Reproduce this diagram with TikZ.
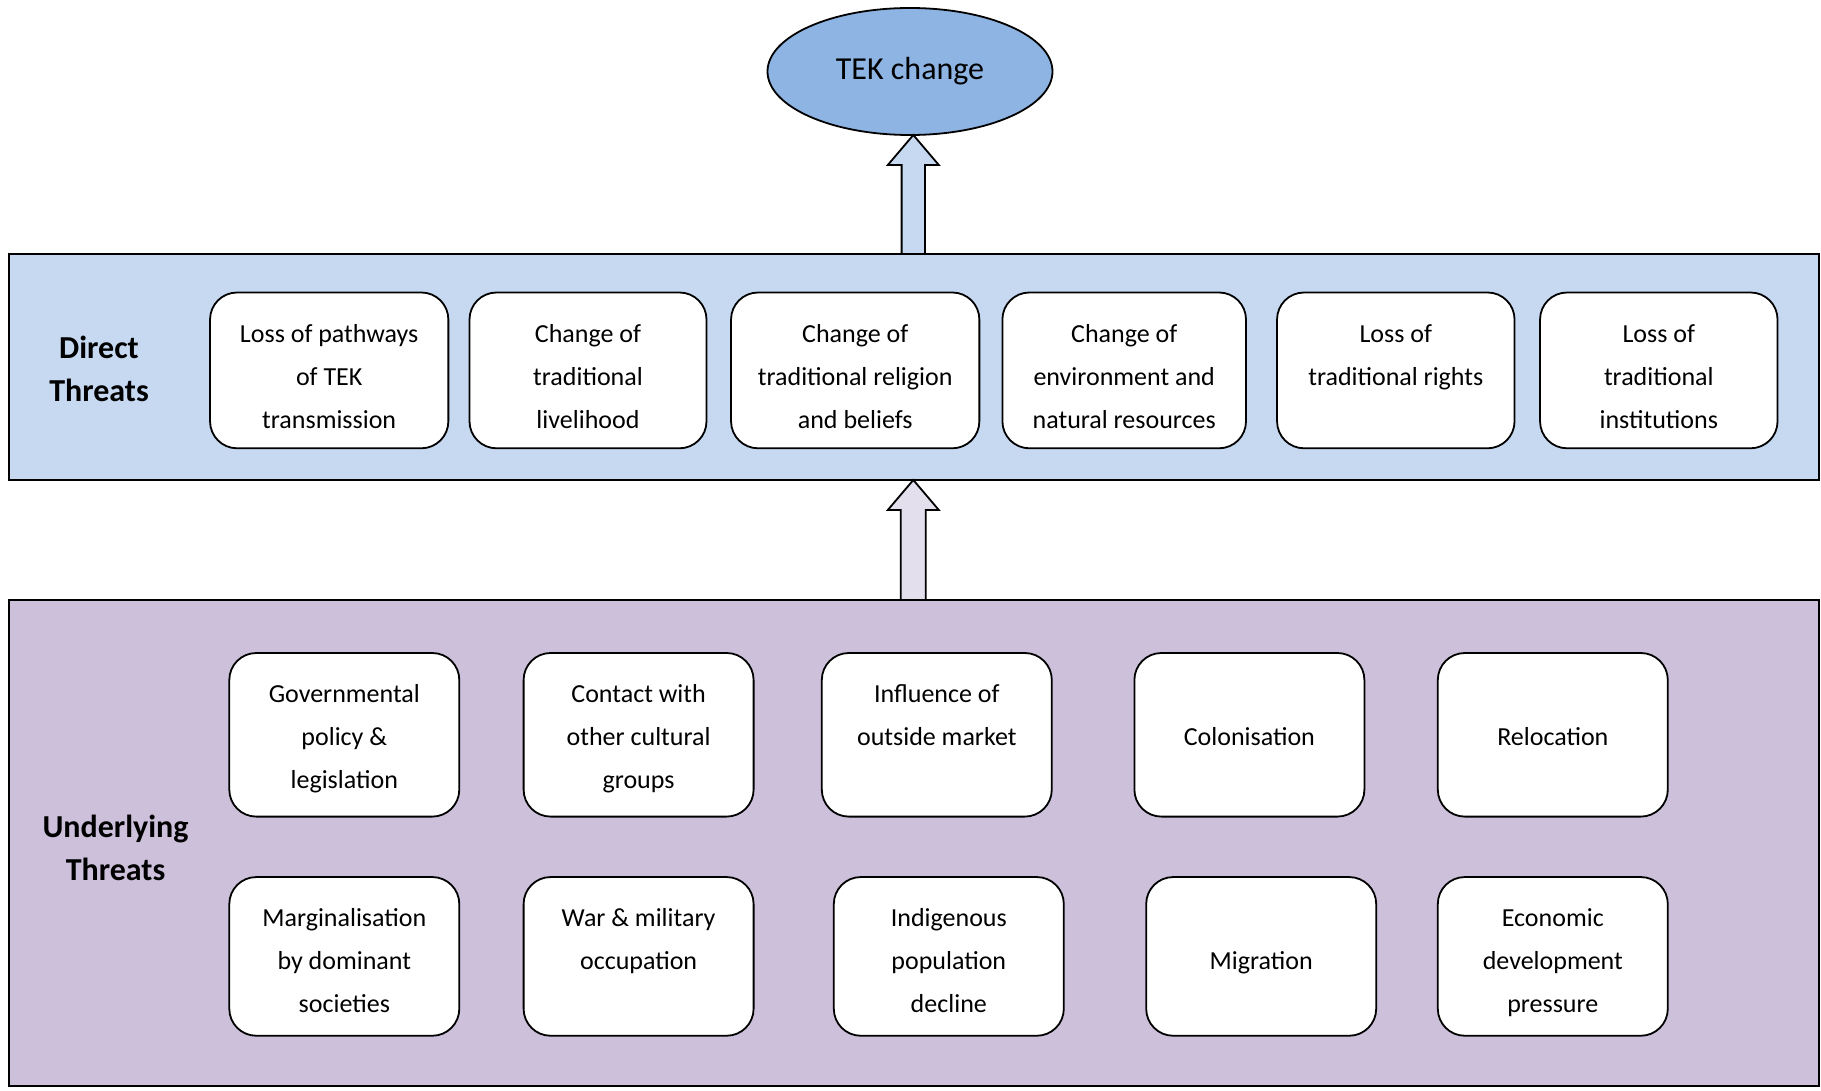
\documentclass[tikz,border=0pt]{standalone}
\usepackage{fontspec}
\setmainfont{Carlito}
\usetikzlibrary{shapes.geometric,calc}

\definecolor{tekblue}{HTML}{8EB4E3}
\definecolor{directfill}{HTML}{C6D9F1}
\definecolor{underfill}{HTML}{CCC0DA}
\definecolor{arrowlav}{HTML}{E4DFEC}

% uniform line strut, 35pt tall; \tsx moves the text block down
\newlength\tsx
\setlength\tsx{0pt}
\newcommand\tstrut{\rule[\dimexpr-7pt+\tsx\relax]{0pt}{35pt}}
\newcommand\lnbr{\tstrut\\\tstrut}

\tikzset{
  band/.style={draw, line width=1.8pt, inner sep=0pt, outer sep=0pt},
  textdown/.code={\setlength\tsx{#1}},
  threat/.style={draw, line width=1.8pt, fill=white, rounded corners=27pt,
    align=center, inner sep=0pt, outer sep=0pt,
    font=\fontsize{26}{43}\selectfont,
    execute at begin node=\tstrut, execute at end node=\tstrut},
  grouplabel/.style={align=center, inner sep=0pt,
    font=\fontsize{32}{43}\selectfont\bfseries,
    execute at begin node=\tstrut, execute at end node=\tstrut},
  blockarrow/.style={draw, line width=1.8pt, line join=miter},
}

\begin{document}
\begin{tikzpicture}[x=1pt, y=-1pt]
\useasboundingbox (0,0) rectangle (1821,1091);

% outcome
\node[ellipse, draw, line width=1.8pt, fill=tekblue, minimum width=285,
  minimum height=127, inner sep=0pt, outer sep=0pt,
  font=\fontsize{32}{38}\selectfont] (tek) at (910,71.5) {TEK change};

% bands
\node[band, fill=directfill, minimum width=1809.7, minimum height=226] (direct) at (914.2,367) {};
\node[band, fill=underfill, minimum width=1809.7, minimum height=486] (under) at (914.2,843) {};

\node[grouplabel] (dlabel) at (99,369) {Direct\lnbr Threats};
\node[grouplabel] (ulabel) at (115.5,848) {Underlying\lnbr Threats};

% direct threats
\begin{scope}[every node/.append style={threat, textdown=4.5pt, minimum height=155.8}]
\node[minimum width=238.3] (d1) at (329.2,370.4) {Loss of pathways\lnbr of TEK\lnbr transmission};
\node[minimum width=237] (d2) at (588,370.4) {Change of\lnbr traditional\lnbr livelihood};
\node[minimum width=248.3] (d3) at (855.2,370.4) {Change of\lnbr traditional religion\lnbr and beliefs};
\node[minimum width=243.6] (d4) at (1124.2,370.4) {Change of\lnbr environment and\lnbr natural resources};
\node[minimum width=237.5] (d5) at (1395.8,370.4) {Loss of\lnbr traditional rights\lnbr};
\node[minimum width=237.5] (d6) at (1658.8,370.4) {Loss of\lnbr traditional\lnbr institutions};
\end{scope}

% underlying threats, first row
\begin{scope}[every node/.append style={threat, minimum width=230, minimum height=163.6}]
\node (u1) at (344.3,734.8) {Governmental\lnbr policy \&\lnbr legislation};
\node (u2) at (638.6,734.8) {Contact with\lnbr other cultural\lnbr groups};
\node (u3) at (936.8,734.8) {Influence of\lnbr outside market\lnbr};
\node (u4) at (1249.4,734.8) {\lnbr Colonisation\lnbr};
\node (u5) at (1552.8,734.8) {\lnbr Relocation\lnbr};
\end{scope}

% underlying threats, second row
\begin{scope}[every node/.append style={threat, textdown=2.25pt, minimum width=230, minimum height=158.7}]
\node (u6) at (344.3,956.4) {Marginalisation\lnbr by dominant\lnbr societies};
\node (u7) at (638.6,956.4) {War \& military\lnbr occupation\lnbr};
\node (u8) at (948.8,956.4) {Indigenous\lnbr population\lnbr decline};
\node (u9) at (1261.2,956.4) {\lnbr Migration\lnbr};
\node (u10) at (1552.8,956.4) {Economic\lnbr development\lnbr pressure};
\end{scope}

% block arrows
\coordinate (t1) at ($(tek.south)+(3.3,0)$);
\coordinate (b1) at (t1 |- direct.north);
\draw[blockarrow, fill=directfill] (t1) -- ($(t1)+(25.5,30)$) -- ($(t1)+(11.7,30)$)
  -- ($(b1)+(11.7,0)$) -- ($(b1)+(-11.7,0)$) -- ($(t1)+(-11.7,30)$)
  -- ($(t1)+(-25.5,30)$) -- cycle;

\coordinate (t2) at (t1 |- direct.south);
\coordinate (b2) at (t1 |- under.north);
\draw[blockarrow, fill=arrowlav] (t2) -- ($(t2)+(25.5,30)$) -- ($(t2)+(12.5,30)$)
  -- ($(b2)+(12.5,0)$) -- ($(b2)+(-12.5,0)$) -- ($(t2)+(-12.5,30)$)
  -- ($(t2)+(-25.5,30)$) -- cycle;
\end{tikzpicture}
\end{document}
